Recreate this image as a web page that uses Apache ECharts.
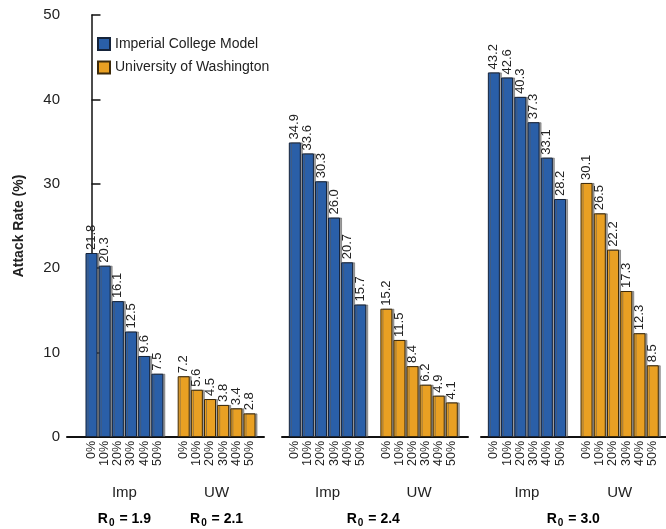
<!DOCTYPE html>
<html><head><meta charset="utf-8">
<script src="https://cdn.jsdelivr.net/npm/echarts@6/dist/echarts.min.js"></script>
<style>html,body{margin:0;padding:0;background:#fff}#c{width:666px;height:529px}</style>
</head><body><div id="c"></div>
<script>
// ---- data ----
var reductions = ['0%', '10%', '20%', '30%', '40%', '50%'];
var groupLabels = ['Imp', 'UW'];
var seriesNames = ['Imperial College Model', 'University of Washington'];
var r0Labels = [['1.9', '2.1'], ['2.4'], ['3.0']];
var imp19 = [21.8, 20.3, 16.1, 12.5, 9.6, 7.5];
var uw21  = [7.2, 5.6, 4.5, 3.8, 3.4, 2.8];
var imp24 = [34.9, 33.6, 30.3, 26.0, 20.7, 15.7];
var uw24  = [15.2, 11.5, 8.4, 6.2, 4.9, 4.1];
var imp30 = [43.2, 42.6, 40.3, 37.3, 33.1, 28.2];
var uw30  = [30.1, 26.5, 22.2, 17.3, 12.3, 8.5];
var yTicks = [0, 10, 20, 30, 40, 50];

var panels = [
  {imp: imp19, uw: uw21, left: 67, right: 402, min: -1.86, max: 13.1},
  {imp: imp24, uw: uw24, left: 282, right: 198, min: -0.98, max: 13.24},
  {imp: imp30, uw: uw30, left: 481, right: 0, min: -0.97, max: 13.0}
];
var UW_OFFSET = 7; // UW group starts two slots after the last Imp bar
var FONT = '"Liberation Sans", Arial, Helvetica, sans-serif';
var TXT = '#222';
var colors = ['#2a5fa8', '#e9a023'];
var borders = ['#15233a', '#3d2a0a'];

var positions = [];
reductions.forEach(function (_, i) { positions.push(i); });
reductions.forEach(function (_, i) { positions.push(i + UW_OFFSET); });
function labelFor(v) {
  var i = Math.round(v);
  return i >= UW_OFFSET ? reductions[i - UW_OFFSET] : reductions[i];
}

var grids = [], xAxes = [], yAxes = [], series = [];
panels.forEach(function (p, k) {
  grids.push({left: p.left, right: p.right, top: 15, bottom: 92, containLabel: false});
  xAxes.push({
    type: 'value', gridIndex: k, min: p.min, max: p.max,
    splitLine: {show: false},
    axisLine: {show: true, onZero: false, lineStyle: {color: '#111', width: 2}},
    axisTick: {show: false},
    axisLabel: {
      show: true, customValues: positions, rotate: 90, margin: 4,
      showMinLabel: true, showMaxLabel: true, hideOverlap: false,
      fontFamily: FONT, fontSize: 12.5, color: TXT,
      formatter: function (v) { return labelFor(v); }
    }
  });
  yAxes.push({
    type: 'value', gridIndex: k, min: 0, max: 50, interval: 10,
    show: k === 0,
    name: k === 0 ? 'Attack Rate (%)' : '',
    nameLocation: 'middle', nameGap: 41,
    nameTextStyle: {fontFamily: FONT, fontSize: 14, fontWeight: 'bold', color: TXT},
    splitLine: {show: false},
    axisLine: {show: k === 0, lineStyle: {color: '#111', width: 1.5}},
    axisTick: {show: k === 0, inside: true, length: 9, lineStyle: {color: '#111', width: 1.5}},
    axisLabel: {show: k === 0, fontFamily: FONT, fontSize: 15, color: TXT, margin: 7}
  });
  [p.imp, p.uw].forEach(function (vals, s) {
    series.push({
      type: 'bar', name: seriesNames[s], xAxisIndex: k, yAxisIndex: k,
      barWidth: 12, barGap: '-100%',
      data: vals.map(function (v, i) { return [i + (s ? UW_OFFSET : 0), v]; }),
      itemStyle: {color: colors[s], borderColor: borders[s], borderWidth: 1,
        shadowColor: 'rgba(90,90,90,0.55)', shadowOffsetX: 2, shadowOffsetY: 0, shadowBlur: 0},
      label: {
        show: true, position: 'top', rotate: 90, align: 'left', verticalAlign: 'middle',
        distance: 3, fontFamily: FONT, fontSize: 13, color: TXT,
        formatter: function (d) { return d.value[1].toFixed(1); }
      },
      emphasis: {disabled: true},
      animation: false
    });
  });
});

var chart = echarts.init(document.getElementById('c'), null, {renderer: 'canvas'});
chart.setOption({
  animation: false,
  textStyle: {fontFamily: FONT},
  legend: {
    orient: 'vertical', left: 97, top: 37, padding: 0, itemWidth: 12, itemHeight: 12, itemGap: 9.5,
    data: seriesNames, icon: 'rect',
    textStyle: {fontFamily: FONT, fontSize: 14, color: TXT}
  },
  grid: grids, xAxis: xAxes, yAxis: yAxes, series: series
});

// group and R0 captions under each panel, positioned via the axes
var graphics = [];
var rich = {
  b: {fontFamily: FONT, fontSize: 14, fontWeight: 'bold', color: TXT},
  s: {fontFamily: FONT, fontSize: 10, fontWeight: 'bold', color: TXT, padding: [8, 1, 0, 1]}
};
function r0Text(v) { return '{b|R}{s|0}{b| = ' + v + '}'; }
panels.forEach(function (p, k) {
  var impC = chart.convertToPixel({xAxisIndex: k}, (reductions.length - 1) / 2);
  var uwC = chart.convertToPixel({xAxisIndex: k}, UW_OFFSET + (reductions.length - 1) / 2);
  [impC, uwC].forEach(function (x, g) {
    graphics.push({type: 'text', x: x, y: 493, style: {text: groupLabels[g], font: '15px ' + FONT, fill: TXT, align: 'center', verticalAlign: 'middle'}});
  });
  var labs = r0Labels[k];
  var xs = labs.length === 2 ? [impC, uwC] : [(impC + uwC) / 2];
  labs.forEach(function (v, j) {
    graphics.push({type: 'text', x: xs[j], y: 519, style: {text: r0Text(v), rich: rich, align: 'center', verticalAlign: 'middle'}});
  });
});
chart.setOption({graphic: graphics});
</script></body></html>
